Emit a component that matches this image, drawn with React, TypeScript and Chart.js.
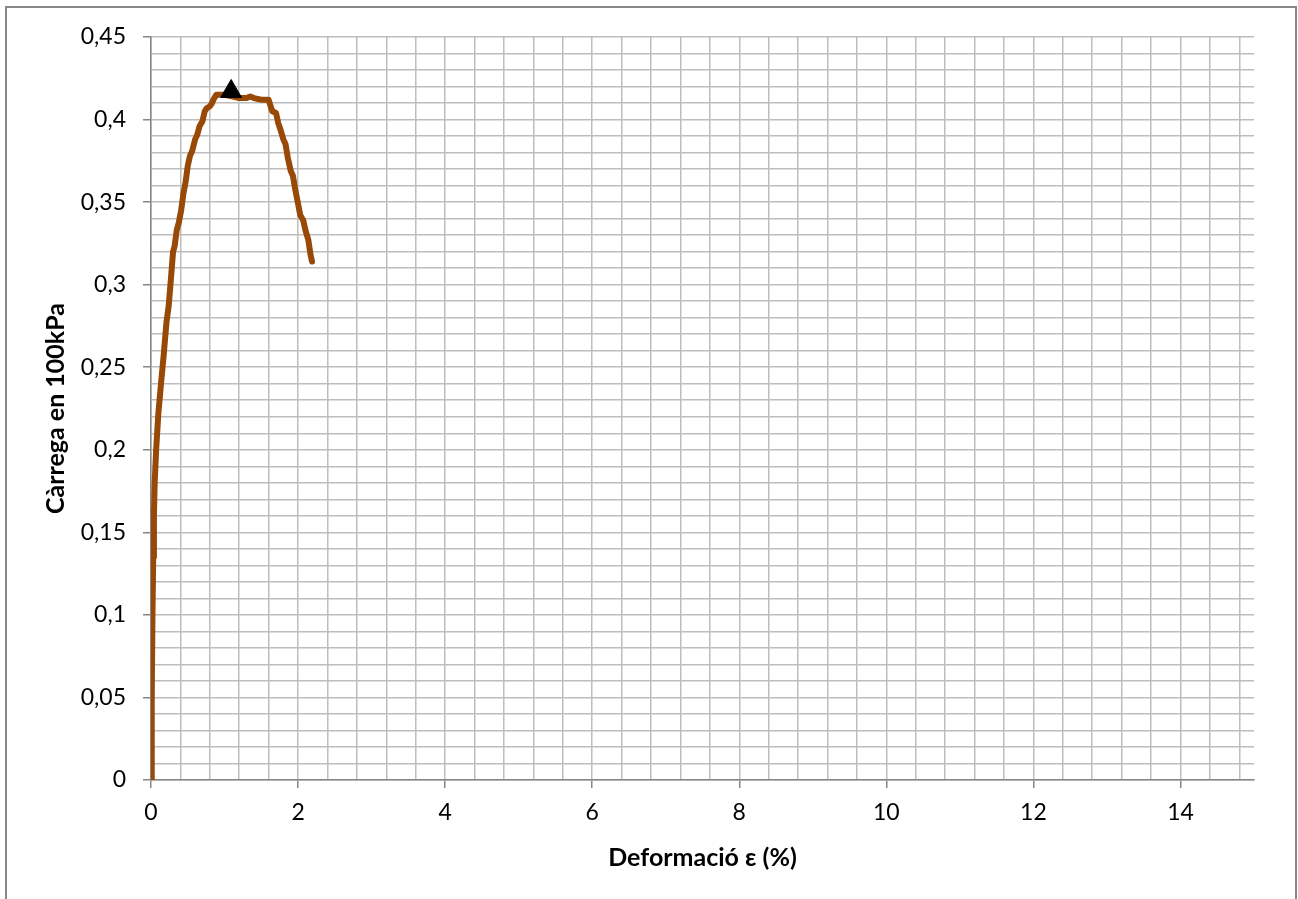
import React, { useEffect, useRef } from "react";
import { Chart, registerables } from "chart.js";

Chart.register(...registerables);

// Deformation (%) and load (100 kPa)
const strainValues = [
  0, 0.01, 0.02, 0.03, 0.04, 0.05, 0.07, 0.1, 0.14, 0.17, 0.21, 0.24, 0.27, 0.3, 0.32,
  0.35, 0.38, 0.41, 0.44, 0.47, 0.5, 0.53, 0.56, 0.6, 0.63, 0.66, 0.7, 0.73, 0.76, 0.8,
  0.83, 0.86, 0.89, 0.93, 1.0, 1.1, 1.2, 1.3, 1.35, 1.4, 1.5, 1.6, 1.62, 1.65, 1.7,
  1.73, 1.76, 1.8, 1.83, 1.86, 1.9, 1.93, 1.96, 2.0, 2.03, 2.07, 2.1, 2.14, 2.17, 2.19,
];
const loadValues = [
  0, 0.05, 0.1, 0.135, 0.16, 0.18, 0.2, 0.222, 0.242, 0.256, 0.277, 0.287, 0.303, 0.32, 0.323,
  0.333, 0.338, 0.345, 0.355, 0.362, 0.372, 0.378, 0.381, 0.388, 0.391, 0.396, 0.399, 0.405, 0.407, 0.408,
  0.41, 0.413, 0.415, 0.415, 0.415, 0.414, 0.413, 0.413, 0.414, 0.413, 0.412, 0.412, 0.409, 0.405, 0.404,
  0.398, 0.394, 0.388, 0.385, 0.377, 0.369, 0.366, 0.358, 0.349, 0.342, 0.339, 0.333, 0.327, 0.318, 0.314,
];

// Peak marker
const peakStrain = [1.09];
const peakLoad = [0.417];

// Axis tick labels
const xMajorTicks = [0, 2, 4, 6, 8, 10, 12, 14];
const xTickLabels = ["0", "2", "4", "6", "8", "10", "12", "14"];
const yMajorTicks = [0, 0.05, 0.1, 0.15, 0.2, 0.25, 0.3, 0.35, 0.4, 0.45];
const yTickLabels = ["0", "0,05", "0,1", "0,15", "0,2", "0,25", "0,3", "0,35", "0,4", "0,45"];

const xMin = 0;
const xMax = 15;
const xMinorStep = 0.4;
const yMin = 0;
const yMax = 0.45;
const yMinorStep = 0.01;

const W = 1298;
const H = 899;

function labelFor(value: number, majors: number[], labels: string[]) {
  for (let i = 0; i < majors.length; i++) {
    if (Math.abs(value - majors[i]) < 1e-6) return labels[i];
  }
  return "";
}
function isMajor(value: number, majors: number[]) {
  return majors.some((m) => Math.abs(value - m) < 1e-6);
}

export default function App() {
  const ref = useRef<HTMLCanvasElement | null>(null);

  useEffect(() => {
    if (!ref.current) return;
    const xTickVals: number[] = [];
    for (let k = 0; k * xMinorStep <= xMax + 1e-9; k++) xTickVals.push(Math.round(k * xMinorStep * 1000) / 1000);
    const yTickVals: number[] = [];
    for (let k = 0; k * yMinorStep <= yMax + 1e-9; k++) yTickVals.push(Math.round(k * yMinorStep * 1000) / 1000);

    const lineData = strainValues.map((x, i) => ({ x, y: loadValues[i] }));
    const peakData = peakStrain.map((x, i) => ({ x, y: peakLoad[i] }));

    const tickFont = { family: "Lato, 'Open Sans', sans-serif", size: 23 };
    const titleFont = { family: "Lato, 'Open Sans', sans-serif", size: 25, weight: "bold" as const };

    const chart = new Chart(ref.current, {
      type: "scatter",
      data: {
        datasets: [
          {
            data: peakData,
            pointStyle: "triangle",
            pointRadius: 12,
            backgroundColor: "#000000",
            borderColor: "#000000",
            borderWidth: 1,
            showLine: false,
          },
          {
            data: lineData,
            showLine: true,
            borderColor: "#984807",
            borderWidth: 6,
            pointRadius: 0,
            tension: 0,
            borderCapStyle: "round",
            borderJoinStyle: "round",
          },
        ],
      },
      options: {
        responsive: false,
        animation: false,
        devicePixelRatio: 1,
        layout: { padding: { top: 37, right: 44, left: 0, bottom: 0 } },
        plugins: { legend: { display: false }, tooltip: { enabled: false } },
        scales: {
          x: {
            type: "linear",
            min: xMin,
            max: xMax,
            afterBuildTicks: (scale: any) => {
              scale.ticks = xTickVals.map((v) => ({ value: v }));
            },
            afterFit: (scale: any) => {
              scale.height = 119;
            },
            grid: {
              color: "#bdbdbd",
              lineWidth: 1.5,
              tickLength: 8,
              tickWidth: 1.5,
              tickColor: (ctx: any) => (ctx.tick && isMajor(ctx.tick.value, xMajorTicks) ? "#868686" : "rgba(0,0,0,0)"),
            },
            border: { color: "#868686", width: 1.5 },
            ticks: {
              autoSkip: false,
              maxRotation: 0,
              padding: 11,
              color: "#000000",
              font: tickFont,
              callback: (value: any) => labelFor(Number(value), xMajorTicks, xTickLabels),
            },
            title: {
              display: true,
              text: "Deformació ε (%)",
              color: "#000000",
              font: titleFont,
              padding: { top: 0, bottom: 26 },
            },
          },
          y: {
            type: "linear",
            min: yMin,
            max: yMax,
            afterBuildTicks: (scale: any) => {
              scale.ticks = yTickVals.map((v) => ({ value: v }));
            },
            afterFit: (scale: any) => {
              scale.width = 151;
            },
            grid: {
              color: "#bdbdbd",
              lineWidth: 1.5,
              tickLength: 8,
              tickWidth: 1.5,
              tickColor: (ctx: any) => (ctx.tick && isMajor(ctx.tick.value, yMajorTicks) ? "#868686" : "rgba(0,0,0,0)"),
            },
            border: { color: "#868686", width: 1.5 },
            ticks: {
              autoSkip: false,
              padding: 17,
              color: "#000000",
              font: tickFont,
              callback: (value: any) => labelFor(Number(value), yMajorTicks, yTickLabels),
            },
            title: {
              display: true,
              text: "Càrrega en 100kPa",
              color: "#000000",
              font: titleFont,
              padding: { top: 41, bottom: 0 },
            },
          },
        },
      },
    });
    return () => chart.destroy();
  }, []);

  return (
    <div style={{ position: "absolute", left: 0, top: 0, width: W, height: H, overflow: "hidden", background: "#ffffff" }}>
      <canvas ref={ref} width={W} height={H} style={{ position: "absolute", left: 0, top: 0, width: W, height: H }} />
      <div
        style={{
          position: "absolute",
          left: 5,
          top: 6,
          width: 1288,
          height: 920,
          border: "2px solid #878787",
          boxSizing: "content-box",
          pointerEvents: "none",
        }}
      />
    </div>
  );
}
